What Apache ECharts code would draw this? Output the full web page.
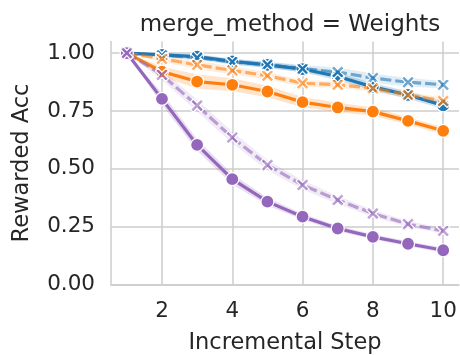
<!DOCTYPE html>
<html>
<head>
<meta charset="utf-8">
<script src="https://cdn.jsdelivr.net/npm/echarts@6/dist/echarts.min.js"></script>
<style>
html,body{margin:0;padding:0;background:#fff;}
#chart{width:460px;height:355px;}
</style>
</head>
<body>
<div id="chart"></div>
<script>
const steps = [1, 2, 3, 4, 5, 6, 7, 8, 9, 10];
const xTicks = [2, 4, 6, 8, 10];
const yTicks = [0, 0.25, 0.5, 0.75, 1.0];

const blueSolid   = [1.0, 0.992, 0.985, 0.964, 0.949, 0.931, 0.899, 0.854, 0.819, 0.774];
const blueDashed  = [1.0, 0.990, 0.980, 0.962, 0.950, 0.932, 0.918, 0.892, 0.874, 0.863];
const orangeSolid = [1.0, 0.920, 0.877, 0.863, 0.834, 0.788, 0.765, 0.747, 0.707, 0.664];
const orangeDashed= [1.0, 0.975, 0.949, 0.925, 0.902, 0.870, 0.863, 0.848, 0.819, 0.793];
const purpleSolid = [1.0, 0.802, 0.603, 0.455, 0.358, 0.293, 0.242, 0.206, 0.176, 0.148];
const purpleDashed= [1.0, 0.906, 0.773, 0.635, 0.516, 0.430, 0.365, 0.307, 0.261, 0.232];

// estimated half-widths of the shaded confidence bands
const blueSolidErr   = [0, 0.008, 0.010, 0.012, 0.012, 0.014, 0.016, 0.016, 0.016, 0.016];
const blueDashedErr  = [0, 0.008, 0.010, 0.012, 0.014, 0.016, 0.020, 0.020, 0.018, 0.016];
const orangeSolidErr = [0, 0.022, 0.030, 0.028, 0.025, 0.022, 0.020, 0.018, 0.016, 0.015];
const orangeDashedErr= [0, 0.014, 0.018, 0.018, 0.016, 0.014, 0.014, 0.014, 0.014, 0.014];
const purpleSolidErr = [0, 0.025, 0.025, 0.022, 0.017, 0.013, 0.012, 0.011, 0.011, 0.011];
const purpleDashedErr= [0, 0.022, 0.025, 0.025, 0.022, 0.020, 0.017, 0.015, 0.013, 0.012];

const X_PATH = 'path://M0,2 L2,0 L5,3 L8,0 L10,2 L7,5 L10,8 L8,10 L5,7 L2,10 L0,8 L3,5 Z';

const groups = [
  {name:'blue-solid', vals: blueSolid, err: blueSolidErr, rgb:'31,119,180', alpha:1, dashed:false},
  {name:'blue-dashed', vals: blueDashed, err: blueDashedErr, rgb:'31,119,180', alpha:0.6, dashed:true},
  {name:'orange-solid', vals: orangeSolid, err: orangeSolidErr, rgb:'255,127,14', alpha:1, dashed:false},
  {name:'orange-dashed', vals: orangeDashed, err: orangeDashedErr, rgb:'255,127,14', alpha:0.6, dashed:true},
  {name:'purple-solid', vals: purpleSolid, err: purpleSolidErr, rgb:'148,103,189', alpha:1, dashed:false},
  {name:'purple-dashed', vals: purpleDashed, err: purpleDashedErr, rgb:'148,103,189', alpha:0.6, dashed:true}
];

const series = [];
groups.forEach((g, i) => {
  const rows = g.vals.map((v, k) => [steps[k], v - g.err[k], v + g.err[k]]);
  const fill = 'rgba('+g.rgb+','+(0.22*g.alpha)+')';
  series.push({
    type:'custom', name:g.name+'-band', data: rows, silent:true, z:1,
    encode:{x:0, y:[1,2]},
    renderItem: function(params, api) {
      if (params.dataIndex !== 0) return null;
      const up = [], lo = [];
      for (let k = 0; k < rows.length; k++) {
        up.push(api.coord([rows[k][0], rows[k][2]]));
        lo.push(api.coord([rows[k][0], rows[k][1]]));
      }
      const pts = up.concat(lo.reverse());
      return {type:'polygon', shape:{points:pts}, style:{fill:fill, stroke:null}};
    },
    animation:false
  });
});
groups.forEach((g, i) => {
  const col = 'rgba('+g.rgb+','+g.alpha+')';
  series.push({
    type:'line', name:g.name, data: g.vals.map((v,k)=>[steps[k], v]),
    symbol: g.dashed ? X_PATH : 'circle',
    symbolSize: 13,
    showAllSymbol:true,
    lineStyle:{color:col, width:3.2, type: g.dashed ? [11,4] : 'solid'},
    itemStyle:{color:col, borderColor:'#fff', borderWidth:1.2},
    z: 3 + i, animation:false
  });
});

const axisFont = {fontFamily:'DejaVu Sans', color:'#262626'};
const chart = echarts.init(document.getElementById('chart'));
chart.setOption({
  backgroundColor:'#fff',
  animation:false,
  title:{
    text:'merge_method = Weights', left:285, top:9, textAlign:'center',
    textStyle:{fontFamily:'DejaVu Sans', fontSize:23, fontWeight:'normal', color:'#262626'}
  },
  grid:{left:111, right:1, top:41.5, bottom:70.5, outerBoundsMode:'none', containLabel:false},
  xAxis:{
    type:'value', min:0.55, max:10.45,
    name:'Incremental Step', nameLocation:'middle', nameGap:47,
    nameTextStyle:{...axisFont, fontSize:22.5},
    axisLine:{show:true, lineStyle:{color:'#cccccc', width:1.5}},
    axisTick:{show:false, customValues:xTicks},
    axisLabel:{...axisFont, fontSize:21.5, margin:16, customValues:xTicks},
    splitLine:{show:true, lineStyle:{color:'#cccccc', width:1.5}}
  },
  yAxis:{
    type:'value', min:0, max:1.05,
    name:'Rewarded Acc', nameLocation:'middle', nameGap:77,
    nameTextStyle:{...axisFont, fontSize:22.5},
    axisLine:{show:true, lineStyle:{color:'#cccccc', width:1.5}},
    axisTick:{show:false, customValues:yTicks},
    axisLabel:{...axisFont, fontSize:21.5, margin:16, customValues:yTicks, formatter:v=>v.toFixed(2)},
    splitLine:{show:true, lineStyle:{color:'#cccccc', width:1.5}}
  },
  series: series
});
</script>
</body>
</html>
